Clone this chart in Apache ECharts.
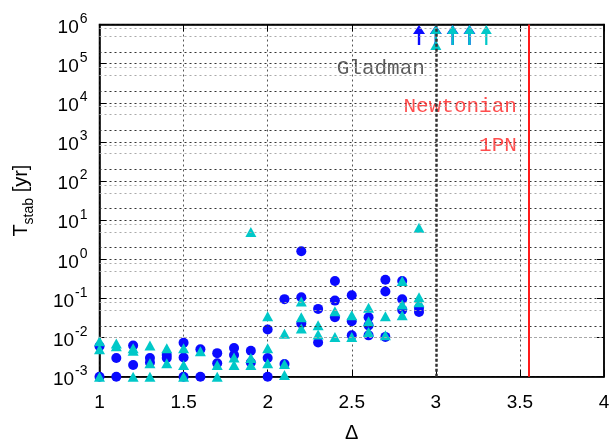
<!DOCTYPE html>
<html>
<head>
<meta charset="utf-8">
<script src="https://cdn.jsdelivr.net/npm/echarts@6/dist/echarts.min.js"></script>
<style>
  html, body { margin: 0; padding: 0; background: #fff; }
  #chart { width: 614px; height: 440px; }
</style>
</head>
<body>
<div id="chart"></div>
<script>
  // blue circles: [delta, T_stab (yr)]
  var circles = [
    [1.0, 0.006], [1.0, 0.001],
    [1.1, 0.003], [1.1, 0.001],
    [1.2, 0.0063], [1.2, 0.002],
    [1.3, 0.003], [1.3, 0.0023],
    [1.4, 0.0036], [1.4, 0.003],
    [1.5, 0.0074], [1.5, 0.0031], [1.5, 0.001],
    [1.6, 0.005], [1.6, 0.001],
    [1.7, 0.004], [1.7, 0.0022],
    [1.8, 0.0054], [1.8, 0.0036],
    [1.9, 0.0046], [1.9, 0.0023],
    [2.0, 0.016], [2.0, 0.003], [2.0, 0.001],
    [2.1, 0.096], [2.1, 0.0021],
    [2.2, 1.6], [2.2, 0.107], [2.2, 0.023],
    [2.3, 0.054], [2.3, 0.0075],
    [2.4, 0.28], [2.4, 0.088], [2.4, 0.033],
    [2.5, 0.12], [2.5, 0.026], [2.5, 0.0114],
    [2.6, 0.033], [2.6, 0.0205], [2.6, 0.0114],
    [2.7, 0.30], [2.7, 0.15], [2.7, 0.0104],
    [2.8, 0.28], [2.8, 0.095], [2.8, 0.051],
    [2.9, 0.057], [2.9, 0.045]
  ];
  // cyan triangles
  var triangles = [
    [1.0, 0.008], [1.0, 0.005], [1.0, 0.001],
    [1.1, 0.0071], [1.1, 0.006],
    [1.2, 0.0053], [1.2, 0.0046], [1.2, 0.001],
    [1.3, 0.0063], [1.3, 0.0022], [1.3, 0.001],
    [1.4, 0.0053], [1.4, 0.0022],
    [1.5, 0.0053], [1.5, 0.002], [1.5, 0.001],
    [1.6, 0.0045],
    [1.7, 0.002], [1.7, 0.001],
    [1.8, 0.0031], [1.8, 0.002],
    [1.9, 5.0], [1.9, 0.003], [1.9, 0.002],
    [2.0, 0.035], [2.0, 0.0053], [2.0, 0.0022],
    [2.1, 0.0126], [2.1, 0.0021], [2.1, 0.0011],
    [2.2, 0.083], [2.2, 0.033], [2.2, 0.017],
    [2.3, 0.0205], [2.3, 0.0119],
    [2.4, 0.047], [2.4, 0.0104],
    [2.5, 0.037], [2.5, 0.0104],
    [2.6, 0.058], [2.6, 0.026], [2.6, 0.0139],
    [2.7, 0.035], [2.7, 0.0115],
    [2.8, 0.28], [2.8, 0.07], [2.8, 0.037],
    [2.9, 6.4], [2.9, 0.107], [2.9, 0.08],
    [3.0, 3e5]
  ];
  // lower limits (still stable at end of run)
  var blueArrows = [2.9, 3.0, 3.1, 3.2];
  var cyanArrows = [3.0, 3.1, 3.2, 3.3];
  var arrowT = 5.4e5;

  var gladmanDelta = 3.0;
  var pnDelta = 3.55;
  var notes = [
    {name: 'Gladman', value: [2.935, 7.4e4], color: '#333'},
    {name: 'Newtonian', value: [3.482, 7.9e3], color: '#ff2020'},
    {name: '1PN', value: [3.482, 805], color: '#ff2020'}
  ];

  var yGridDark = [2e-3, 2e-2, 2e-1, 2, 20, 200, 2e3, 2e4, 2e5];
  var yGridLight = [5e-3, 8e-3, 5e-2, 8e-2, 5e-1, 8e-1, 5, 8, 50, 80,
                    500, 800, 5e3, 8e3, 5e4, 8e4, 5e5, 8e5];

  var arrowPath = 'path://M5,0L10,9L6,9L6,20L4,20L4,9L0,9Z';
  var dots = [2, 3];

  function toPairs(xs) {
    return xs.map(function (x) { return [x, arrowT]; });
  }
  function gridLines(vals) {
    return vals.map(function (v) { return {yAxis: v}; });
  }

  var myChart = echarts.init(document.getElementById('chart'));
  myChart.setOption({
    animation: false,
    textStyle: {fontFamily: 'Liberation Sans'},
    grid: {left: 99.5, right: 10, top: 24.5, bottom: 63.3,
           outerBoundsMode: 'none', containLabel: false,
           show: true, borderColor: '#000', borderWidth: 1.5},
    xAxis: [{
      type: 'value', min: 1, max: 4, interval: 0.5,
      name: 'Δ', nameLocation: 'middle', nameGap: 47,
      nameTextStyle: {fontSize: 20, color: '#000'},
      axisLine: {lineStyle: {color: '#000', width: 1.5}},
      axisTick: {inside: true, length: 7, lineStyle: {color: '#000'}},
      axisLabel: {fontSize: 19, color: '#000', margin: 17},
      splitLine: {lineStyle: {color: '#555', type: dots}}
    }, {
      type: 'value', min: 1, max: 4, interval: 0.5, position: 'top',
      axisLine: {lineStyle: {color: '#000', width: 1.5}},
      axisTick: {inside: true, length: 7, lineStyle: {color: '#000'}},
      axisLabel: {show: false}, splitLine: {show: false}
    }],
    yAxis: [{
      type: 'log', logBase: 10, min: 1e-3, max: 1e6, interval: 1,
      name: '{a|T}{b|stab}{a| [yr]}', nameLocation: 'middle', nameGap: 68,
      nameRotate: 90,
      nameTextStyle: {
        color: '#000',
        rich: {
          a: {fontSize: 20, color: '#000', verticalAlign: 'bottom'},
          b: {fontSize: 14, color: '#000', verticalAlign: 'bottom', padding: [0, 0, -5, 0]}
        }
      },
      axisLine: {lineStyle: {color: '#000', width: 1.5}},
      axisTick: {inside: true, length: 7, lineStyle: {color: '#000'}},
      axisLabel: {
        margin: 12,
        formatter: function (v) {
          return '{b|10}{s|' + Math.round(Math.log10(v)) + '}';
        },
        rich: {
          b: {fontSize: 19, color: '#000', verticalAlign: 'bottom'},
          s: {fontSize: 14, color: '#000', verticalAlign: 'bottom', padding: [0, 0, 11, 1]}
        }
      },
      splitLine: {lineStyle: {color: '#333', type: dots}}
    }, {
      type: 'log', logBase: 10, min: 1e-3, max: 1e6, interval: 1, position: 'right',
      axisLine: {lineStyle: {color: '#000', width: 1.5}},
      axisTick: {inside: true, length: 7, lineStyle: {color: '#000'}},
      axisLabel: {show: false}, splitLine: {show: false}
    }],
    series: [
      {
        type: 'scatter', name: 'grid', data: [], silent: true,
        markLine: {
          silent: true, symbol: ['none', 'none'], label: {show: false},
          lineStyle: {color: '#aaa', type: dots, width: 1},
          data: gridLines(yGridLight)
        }
      },
      {
        type: 'scatter', name: 'grid2', data: [], silent: true,
        markLine: {
          silent: true, symbol: ['none', 'none'], label: {show: false},
          lineStyle: {color: '#333', type: dots, width: 1},
          data: gridLines(yGridDark)
        }
      },
      {
        type: 'scatter', name: 'criteria', data: [], silent: true,
        markLine: {
          silent: true, symbol: ['none', 'none'], label: {show: false},
          data: [
            {xAxis: gladmanDelta, lineStyle: {color: '#333', width: 2.5, type: [3, 2]}},
            {xAxis: pnDelta, lineStyle: {color: '#ff1a1a', width: 2, type: 'solid'}}
          ]
        }
      },
      {
        type: 'scatter', name: 'circles', data: circles,
        symbol: 'circle', symbolSize: 10,
        itemStyle: {color: '#0a0aff', opacity: 1}
      },
      {
        type: 'scatter', name: 'triangles', data: triangles,
        symbol: 'triangle', symbolSize: [11, 10],
        itemStyle: {color: '#00c8c8', opacity: 1}
      },
      {
        type: 'scatter', name: 'blue limits', data: toPairs(blueArrows),
        symbol: arrowPath, symbolSize: [12, 20],
        itemStyle: {color: '#0a0aff', opacity: 1}
      },
      {
        type: 'scatter', name: 'cyan limits', data: toPairs(cyanArrows),
        symbol: arrowPath, symbolSize: [11, 20],
        itemStyle: {color: '#00c8c8', opacity: 1}
      },
      {
        type: 'scatter', name: 'notes', symbolSize: 0, silent: true,
        data: notes.map(function (n) {
          return {
            name: n.name, value: n.value,
            label: {color: n.color}
          };
        }),
        label: {
          show: true, position: 'left', distance: 0,
          formatter: '{b}',
          fontFamily: 'Liberation Mono', fontSize: 21
        }
      }
    ]
  });
</script>
</body>
</html>
